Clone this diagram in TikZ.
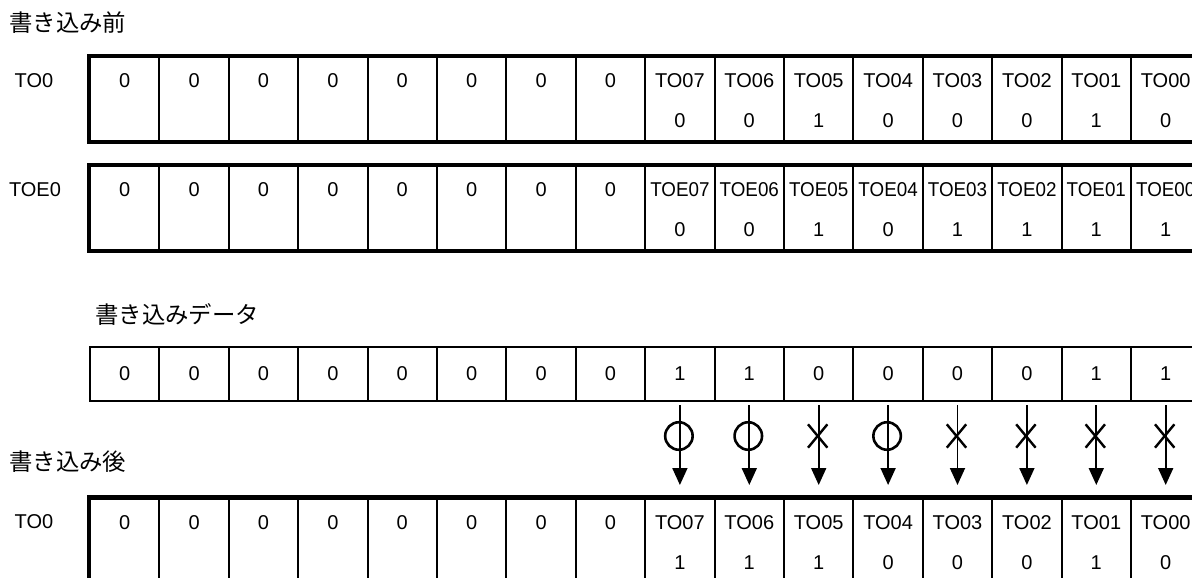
\documentclass[tikz,border=0pt]{standalone}
\usepackage{fontspec}
\setmainfont{Liberation Sans}
\newfontfamily\jpfont{Noto Sans CJK JP}
\newfontfamily\narrowfont[FakeStretch=0.94]{Liberation Sans}
\usetikzlibrary{positioning, calc, arrows.meta, shapes.misc}

\begin{document}
\begin{tikzpicture}[x=1pt, y=-1pt,
  ttl/.style={font=\jpfont\fontsize{23.4}{23.4}\selectfont, anchor=west, inner sep=0},
  reg/.style={font=\fontsize{20}{20}\selectfont, inner sep=0},
  bit/.style={font=\fontsize{20}{20}\selectfont, inner sep=0},
  nbit/.style={font=\narrowfont\fontsize{20}{20}\selectfont, inner sep=0},
  cell/.style={rectangle, draw, line width=2pt, minimum width=69.4pt, minimum height=84pt, inner sep=0, anchor=north west},
  dcell/.style={cell, minimum height=54pt, font=\fontsize{20}{20}\selectfont},
  thk/.style={line width=4.5pt},
  wr/.style={line width=1.8pt, -{Triangle[width=15pt, length=17pt]}, shorten <=3pt, shorten >=12.5pt},
  okmark/.style={circle, draw, line width=2.6pt, minimum size=27.5pt, inner sep=0},
  ngmark/.style={cross out, draw, line width=2.4pt, minimum width=17pt, minimum height=21pt, inner sep=0},
]
\path[use as bounding box, clip] (0,0) rectangle (1192,578);

% before writing
\node[ttl] (tbefore) at (9,22.5) {書き込み前};
\node[reg] (lto) at (34,81) {TO0};
\foreach \i in {1,...,16}
  \node[cell] (b\i) at ({89+(\i-1)*69.4},56) {};
\draw[thk] (b1.north west) rectangle (b16.south east);
\foreach \t [count=\i] in {0,0,0,0,0,0,0,0,TO07,TO06,TO05,TO04,TO03,TO02,TO01,TO00}
  \node[bit] (bn\i) at ($(b\i.north)+(0,25)$) {\t};
\foreach \v [count=\j from 9] in {0,0,1,0,0,0,1,0}
  \node[bit] (bv\j) at ($(b\j.north)+(0,65)$) {\v};

\node[reg] (ltoe) at (35,190) {TOE0};
\foreach \i in {1,...,16}
  \node[cell] (e\i) at ({89+(\i-1)*69.4},165) {};
\draw[thk] (e1.north west) rectangle (e16.south east);
\foreach \t [count=\i] in {0,0,0,0,0,0,0,0}
  \node[bit] (en\i) at ($(e\i.north)+(0,25)$) {\t};
\foreach \t [count=\j from 9] in {TOE07,TOE06,TOE05,TOE04,TOE03,TOE02,TOE01,TOE00}
  \node[nbit] (en\j) at ($(e\j.north)+(0,25)$) {\t};
\foreach \v [count=\j from 9] in {0,0,1,0,1,1,1,1}
  \node[bit] (ev\j) at ($(e\j.north)+(0,65)$) {\v};

% write data
\node[ttl] (tdata) at (95,315) {書き込みデータ};
\foreach \v [count=\i] in {0,0,0,0,0,0,0,0,1,1,0,0,0,0,1,1}
  \node[dcell] (d\i) at ({89+(\i-1)*69.4},346) {\v};

% after writing
\node[ttl] (tafter) at (9,462) {書き込み後};
\node[reg] (lto2) at (34,522) {TO0};
\foreach \i in {1,...,16}
  \node[cell] (a\i) at ({89+(\i-1)*69.4},497.5) {};
\draw[thk] (a1.north west) rectangle (a16.south east);
\foreach \t [count=\i] in {0,0,0,0,0,0,0,0,TO07,TO06,TO05,TO04,TO03,TO02,TO01,TO00}
  \node[bit] (an\i) at ($(a\i.north)+(0,25)$) {\t};
\foreach \v [count=\j from 9] in {1,1,1,0,0,0,1,0}
  \node[bit] (av\j) at ($(a\j.north)+(0,65)$) {\v};

% write enable marks and arrows
\foreach \m [count=\j from 9] in {okmark,okmark,ngmark,okmark,ngmark,ngmark,ngmark,ngmark}{
  \node[\m] (m\j) at ({89+(\j-0.5)*69.4},436) {};
  \draw[wr] (d\j.south) -- (a\j.north);
}
\end{tikzpicture}
\end{document}
